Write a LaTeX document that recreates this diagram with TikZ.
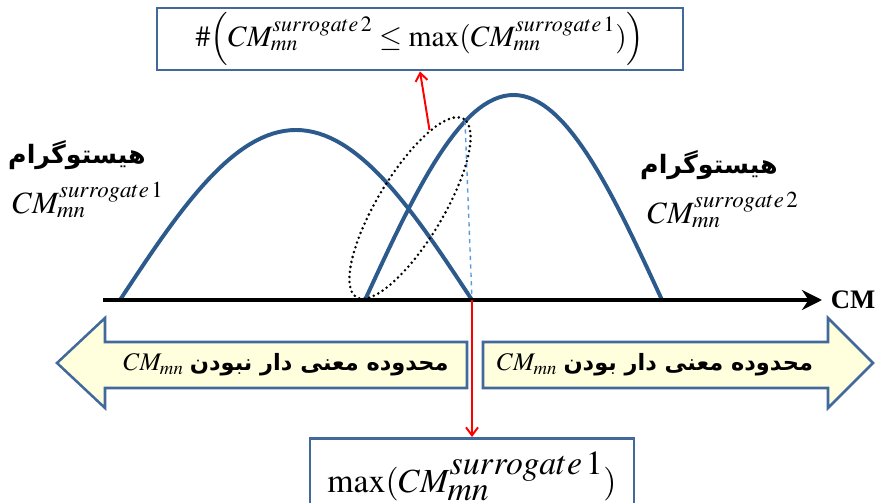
\documentclass[tikz,border=0pt]{standalone}
\usepackage{mathptmx}
\usepackage[no-math]{fontspec}
\setmainfont{Liberation Serif}
\newfontfamily\farsifont[Script=Arabic]{DejaVu Sans}
\TeXXeTstate=1
\usetikzlibrary{arrows.meta,positioning,shapes.geometric}
\definecolor{histblue}{HTML}{2C5A8C}
\definecolor{boxblue}{HTML}{41699B}
\definecolor{paleyellow}{HTML}{FFFFDD}
\definecolor{guideblue}{HTML}{5B9BD5}
\newcommand{\cmsur}[1]{CM_{mn}^{surrogate\,#1}}

\begin{document}
\begin{tikzpicture}[x=0.025cm,y=-0.025cm,
  hist/.style={draw=histblue,line width=2.8pt},
  formula/.style={draw=boxblue,line width=2pt,fill=white,inner sep=0pt,align=center},
  bigarrow/.style={draw=boxblue,line width=1.8pt,fill=paleyellow,line join=miter},
  pointer/.style={-{Straight Barb[length=2mm,width=3mm]},draw=red,line width=1.4pt},
  persian/.style={font=\farsifont\bfseries\fontsize{18}{22}\selectfont},
  rangetext/.style={font=\fontsize{18}{22}\selectfont}
]
\useasboundingbox (0,0) rectangle (882,503);
\clip (0,0) rectangle (882,503);

% the two histograms
\draw[hist] plot[domain=0:180,samples=61] ({120+\x/180*352},{300-170*sin(\x)});
\draw[hist] plot[domain=0:180,samples=61] ({365+\x/180*297},{300-205*sin(\x)});

% CM axis
\coordinate (axisstart) at (103,300);
\coordinate (axisend) at (822,300);
\coordinate (bound) at (472,300);
\coordinate (cross) at (465,121);
\draw[guideblue,line width=1pt,dashed] (cross) -- (bound);
\draw[line width=2.8pt,-{Stealth[length=5mm,width=5mm]}] (axisstart) -- (axisend);
\node[font=\bfseries\fontsize{19}{22}\selectfont] (cmaxis) at (853,300) {CM};

% overlap region
\node[ellipse,draw=black,line width=2pt,line cap=round,dash pattern=on 0pt off 3.6pt,
  minimum width=5.2cm,minimum height=1.65cm,rotate=59] (focus) at (410,208) {};

% labels
\node[persian] (histleft) at (77,155) {\beginR هیستوگرام\endR};
\node[font=\fontsize{22}{26}\selectfont] (curveleft) at (88,200) {$\cmsur{1}$};
\node[persian] (histright) at (709,165) {\beginR هیستوگرام\endR};
\node[font=\fontsize{22}{26}\selectfont] (curveright) at (723,210) {$\cmsur{2}$};

% formula boxes
\node[formula,minimum width=13.15cm,minimum height=1.55cm,font=\fontsize{21}{25}\selectfont]
  (countbox) at (420,39) {$\#\!\left(\cmsur{2}\le\max(\cmsur{1})\right)$};
\node[formula,anchor=north,minimum width=8.1cm,minimum height=1.9cm,font=\fontsize{24}{28}\selectfont]
  (maxbox) at (472,437) {$\max(CM_{\textstyle mn}^{\textstyle surrogate\,1})$};

% range arrows
\draw[bigarrow] (467,342) -- (105,342) -- (105,318) -- (57,363) -- (105,408) -- (105,388) -- (467,388) -- cycle;
\draw[bigarrow] (483,342) -- (828,342) -- (828,318) -- (873,363) -- (828,408) -- (828,388) -- (483,388) -- cycle;
\node[rangetext] (leftrange) at (286,365)
  {$CM_{mn}$\ {\farsifont\bfseries\fontsize{16}{20}\selectfont\beginR محدوده معنی دار نبودن\endR}};
\node[rangetext] (rightrange) at (655,365)
  {$CM_{mn}$\ {\farsifont\bfseries\fontsize{16}{20}\selectfont\beginR محدوده معنی دار بودن\endR}};

\draw[pointer] (focus.17) -- (countbox.south);
\draw[pointer] (bound) -- (maxbox.north);
\end{tikzpicture}
\end{document}
